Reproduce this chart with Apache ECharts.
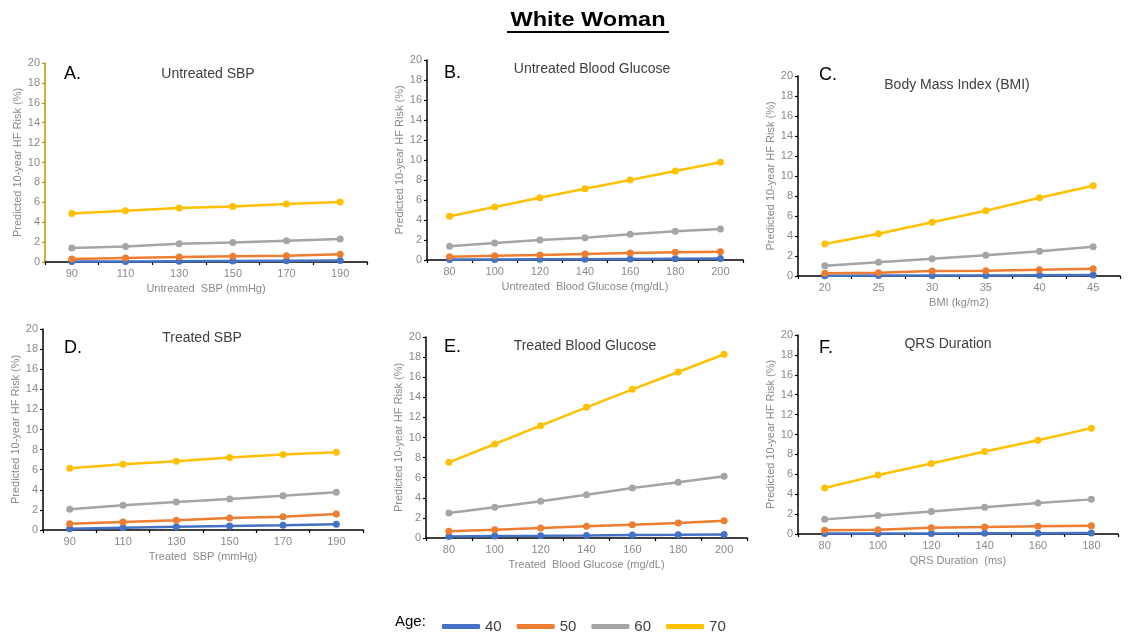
<!DOCTYPE html>
<html>
<head>
<meta charset="utf-8">
<title>White Woman</title>
<script src="https://cdn.jsdelivr.net/npm/echarts@6/dist/echarts.min.js"></script>
<style>
  html, body { margin: 0; padding: 0; background: #ffffff; }
  #chart { width: 1128px; height: 636px; }
</style>
</head>
<body>
<div id="chart"></div>
<script>
// Age groups drawn as separate lines in every panel
const ages = ['40', '50', '60', '70'];
const ageColors = ['#4472C4', '#ED7D31', '#A5A5A5', '#FFC000'];

// Category labels for the x axes
const sbpCats = ['90', '110', '130', '150', '170', '190'];
const glucoseCats = ['80', '100', '120', '140', '160', '180', '200'];
const bmiCats = ['20', '25', '30', '35', '40', '45'];
const qrsCats = ['80', '100', '120', '140', '160', '180'];

// Y axis: predicted 10-year HF risk (%)
const yMin = 0;
const yMax = 20;
const yStep = 2;

// A. Untreated SBP
const untreatedSbp40 = [0.05, 0.06, 0.08, 0.10, 0.12, 0.15];
const untreatedSbp50 = [0.30, 0.40, 0.50, 0.57, 0.64, 0.77];
const untreatedSbp60 = [1.40, 1.57, 1.84, 1.97, 2.14, 2.31];
const untreatedSbp70 = [4.88, 5.15, 5.42, 5.58, 5.82, 6.02];

// B. Untreated blood glucose
const untreatedGlu40 = [0.05, 0.06, 0.07, 0.08, 0.10, 0.12, 0.14];
const untreatedGlu50 = [0.33, 0.43, 0.50, 0.60, 0.70, 0.77, 0.83];
const untreatedGlu60 = [1.37, 1.70, 2.00, 2.23, 2.57, 2.87, 3.10];
const untreatedGlu70 = [4.37, 5.30, 6.23, 7.13, 8.00, 8.90, 9.77];

// C. Body mass index
const bmi40 = [0.03, 0.04, 0.05, 0.06, 0.08, 0.10];
const bmi50 = [0.27, 0.33, 0.50, 0.53, 0.63, 0.73];
const bmi60 = [1.03, 1.37, 1.73, 2.07, 2.47, 2.93];
const bmi70 = [3.20, 4.23, 5.37, 6.53, 7.83, 9.03];

// D. Treated SBP
const treatedSbp40 = [0.13, 0.23, 0.33, 0.40, 0.47, 0.56];
const treatedSbp50 = [0.63, 0.80, 0.96, 1.20, 1.33, 1.60];
const treatedSbp60 = [2.06, 2.46, 2.79, 3.09, 3.42, 3.75];
const treatedSbp70 = [6.15, 6.54, 6.84, 7.21, 7.51, 7.74];

// E. Treated blood glucose
const treatedGlu40 = [0.15, 0.20, 0.22, 0.25, 0.30, 0.32, 0.35];
const treatedGlu50 = [0.66, 0.83, 1.00, 1.16, 1.33, 1.49, 1.72];
const treatedGlu60 = [2.49, 3.05, 3.65, 4.31, 4.98, 5.54, 6.14];
const treatedGlu70 = [7.53, 9.35, 11.18, 13.00, 14.79, 16.52, 18.28];

// F. QRS duration
const qrs40 = [0.04, 0.05, 0.06, 0.07, 0.08, 0.10];
const qrs50 = [0.37, 0.43, 0.64, 0.70, 0.77, 0.84];
const qrs60 = [1.47, 1.87, 2.27, 2.68, 3.11, 3.48];
const qrs70 = [4.62, 5.92, 7.09, 8.29, 9.43, 10.64];

const yName = 'Predicted 10-year HF Risk (%)';
const FONT = '"Liberation Sans", Arial, sans-serif';

// Panel descriptions: layout + content
const panels = [
  { letter: 'A.', title: 'Untreated SBP', xName: 'Untreated  SBP (mmHg)', cats: sbpCats,
    series: [untreatedSbp40, untreatedSbp50, untreatedSbp60, untreatedSbp70],
    grid: { left: 45, top: 63, width: 322, height: 199 }, yLineColor: '#BF9000',
    letterPos: [64, 65], titlePos: [208, 67] },
  { letter: 'B.', title: 'Untreated Blood Glucose', xName: 'Untreated  Blood Glucose (mg/dL)', cats: glucoseCats,
    series: [untreatedGlu40, untreatedGlu50, untreatedGlu60, untreatedGlu70],
    grid: { left: 427, top: 60, width: 316, height: 200 }, yLineColor: '#000000',
    letterPos: [444, 64], titlePos: [592, 62] },
  { letter: 'C.', title: 'Body Mass Index (BMI)', xName: 'BMI (kg/m2)', cats: bmiCats,
    series: [bmi40, bmi50, bmi60, bmi70],
    grid: { left: 798, top: 76, width: 322, height: 200 }, yLineColor: '#000000',
    letterPos: [819, 66], titlePos: [957, 78] },
  { letter: 'D.', title: 'Treated SBP', xName: 'Treated  SBP (mmHg)', cats: sbpCats,
    series: [treatedSbp40, treatedSbp50, treatedSbp60, treatedSbp70],
    grid: { left: 43, top: 329, width: 320, height: 201 }, yLineColor: '#000000',
    letterPos: [64, 339], titlePos: [202, 331] },
  { letter: 'E.', title: 'Treated Blood Glucose', xName: 'Treated  Blood Glucose (mg/dL)', cats: glucoseCats,
    series: [treatedGlu40, treatedGlu50, treatedGlu60, treatedGlu70],
    grid: { left: 426, top: 337, width: 321, height: 201 }, yLineColor: '#000000',
    letterPos: [444, 338], titlePos: [585, 339] },
  { letter: 'F.', title: 'QRS Duration', xName: 'QRS Duration  (ms)', cats: qrsCats,
    series: [qrs40, qrs50, qrs60, qrs70],
    grid: { left: 798, top: 335, width: 320, height: 199 }, yLineColor: '#000000',
    letterPos: [819, 339], titlePos: [948, 337] }
];

const grids = [];
const xAxes = [];
const yAxes = [];
const series = [];
const titles = [];

panels.forEach(function (p, i) {
  grids.push(Object.assign({ containLabel: false }, p.grid));

  xAxes.push({
    type: 'category', gridIndex: i, data: p.cats, boundaryGap: true,
    name: p.xName, nameLocation: 'middle', nameGap: 21,
    nameTextStyle: { color: '#8a8a8a', fontSize: 11, fontFamily: FONT },
    axisLine: { lineStyle: { color: '#000000', width: 1.5 } },
    axisTick: { show: true, inside: false, length: 3, lineStyle: { color: '#000000', width: 1.2 } },
    axisLabel: { color: '#8a8a8a', fontSize: 11, fontFamily: FONT, margin: 6 },
    splitLine: { show: false }
  });

  yAxes.push({
    type: 'value', gridIndex: i, min: yMin, max: yMax, interval: yStep,
    name: yName, nameLocation: 'middle', nameGap: 20, nameRotate: 90,
    nameTextStyle: { color: '#8a8a8a', fontSize: 11, fontFamily: FONT },
    axisLine: { show: true, lineStyle: { color: p.yLineColor, width: 1.5 } },
    axisTick: { show: true, inside: false, length: 3, lineStyle: { color: p.yLineColor, width: 1.2 } },
    axisLabel: { color: '#8a8a8a', fontSize: 11, fontFamily: FONT, margin: 5 },
    splitLine: { show: false }
  });

  p.series.forEach(function (vals, k) {
    series.push({
      name: ages[k], type: 'line', xAxisIndex: i, yAxisIndex: i,
      data: vals, symbol: 'circle', symbolSize: 7,
      lineStyle: { color: ageColors[k], width: 2.5 },
      itemStyle: { color: ageColors[k] },
      z: 2 + k, animation: false
    });
  });

  titles.push({
    text: p.letter, left: p.letterPos[0], top: p.letterPos[1], padding: 0,
    textStyle: { color: '#000000', fontSize: 18, fontWeight: 'normal', fontFamily: FONT }
  });
  titles.push({
    text: p.title, left: p.titlePos[0], top: p.titlePos[1], textAlign: 'center', padding: 0,
    textStyle: { color: '#404040', fontSize: 14, fontWeight: 'normal', fontFamily: FONT }
  });
});

const chart = echarts.init(document.getElementById('chart'), null, { renderer: 'canvas' });

chart.setOption({
  backgroundColor: '#ffffff',
  animation: false,
  title: titles,
  grid: grids,
  xAxis: xAxes,
  yAxis: yAxes,
  series: series,
  legend: {
    data: ages, left: 437, top: 614, icon: 'roundRect',
    itemWidth: 38, itemHeight: 5, itemGap: 15,
    textStyle: { color: '#404040', fontSize: 15, fontFamily: FONT }
  },
  graphic: [
    {
      type: 'text', x: 588, y: 20, scaleX: 1.12,
      style: { text: 'White Woman', align: 'center', verticalAlign: 'middle',
               font: 'bold 21px "Liberation Sans", Arial, sans-serif', fill: '#000000' }
    },
    {
      type: 'rect', shape: { x: 507, y: 31, width: 162, height: 2 },
      style: { fill: '#000000' }
    },
    {
      type: 'text', x: 395, y: 622,
      style: { text: 'Age:', align: 'left', verticalAlign: 'middle',
               font: '15px "Liberation Sans", Arial, sans-serif', fill: '#000000' }
    }
  ]
});
</script>
</body>
</html>
